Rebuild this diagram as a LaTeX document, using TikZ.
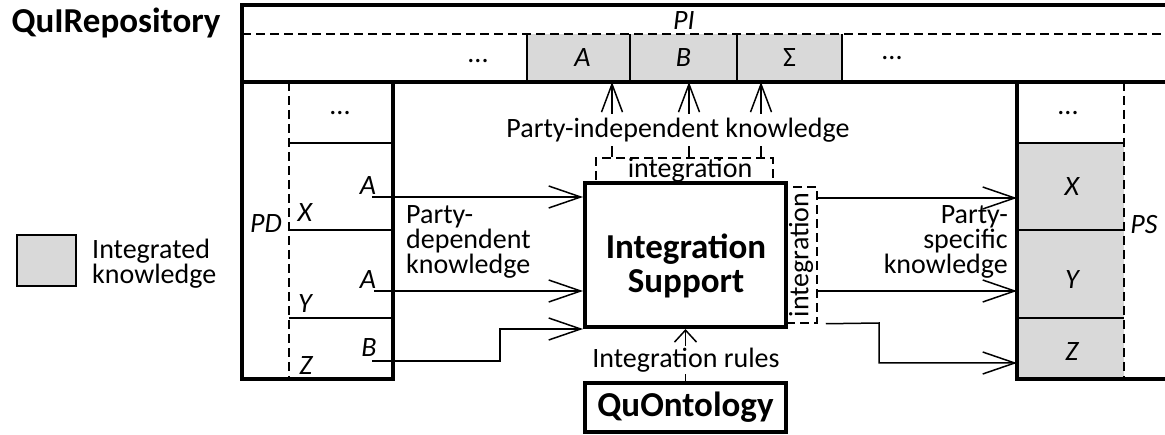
\documentclass[tikz,border=0pt]{standalone}
\usepackage{fontspec}
\setmainfont{Carlito}
\usetikzlibrary{arrows.meta,positioning}

\begin{document}
\begin{tikzpicture}[x=1pt, y=-1pt,
    outline/.style={line width=3.5pt},
    fineline/.style={line width=1.5pt},
    dashline/.style={line width=1.5pt, dash pattern=on 9pt off 5pt},
    brk/.style={draw, line width=1.5pt, dash pattern=on 9pt off 5pt, inner sep=0},
    graycell/.style={fill=black!15, inner sep=0},
    txt/.style={font=\fontsize{28}{23}\selectfont, inner sep=0},
    var/.style={font=\fontsize{28}{23}\selectfont\itshape, inner sep=0},
    heading/.style={font=\fontsize{35}{34}\selectfont\bfseries, inner sep=0, align=center},
    flow/.style={line width=1.5pt, -{Straight Barb[length=32pt,width=22pt,line width=1.5pt]}},
    upflow/.style={line width=1.5pt, -{Straight Barb[length=28pt,width=21pt,line width=1.5pt]}},
    ruleflow/.style={line width=1.5pt, -{Straight Barb[length=12pt,width=22pt,line width=1.5pt]}}
]
\useasboundingbox (0,0) rectangle (1165,435);

\node[graycell, minimum width=103pt, minimum height=48pt, font=\fontsize{28}{23}\selectfont\itshape] (cell_a) at (578.5,58) {\hspace{8pt}A};
\node[graycell, minimum width=107pt, minimum height=48pt, font=\fontsize{28}{23}\selectfont\itshape] (cell_b) at (683.5,58) {B};
\node[graycell, minimum width=105pt, minimum height=48pt, font=\fontsize{28}{23}\selectfont] (cell_sum) at (789.5,58) {Σ};
\fill[black!15] (1017,143) rectangle (1124,379);

\draw[fineline] (527,34) -- (527,82) (630,34) -- (630,82) (737,34) -- (737,82) (842,34) -- (842,82);
\draw[dashline] (242,34) -- (1165,34);
\draw[dashline] (289,82) -- (289,379);
\draw[dashline] (1124,82) -- (1124,379);
\draw[fineline] (289,143) -- (393,143) (289,230) -- (393,230) (289,318) -- (393,318);
\draw[fineline] (1017,143) -- (1124,143) (1017,230) -- (1124,230) (1017,318) -- (1124,318);

\draw[outline] (1165,5) -- (242,5) -- (242,379) -- (393,379) -- (393,82);
\draw[outline] (242,82) -- (1165,82);
\draw[outline] (1017,82) -- (1017,379) -- (1165,379);

\node[heading] (repo_title) at (116,23) {QuIRepository};
\node[var] (pi_label) at (684,21) {PI};
\node[txt] (pi_dots) at (478,61) {...};
\node[txt] (pi_dots2) at (892,58) {...};

\node[txt] (pd_dots) at (340,113) {...};
\node[var] (pd_label) at (266,224) {PD};
\node[var] (pd_x) at (305,213) {X};
\node[var] (pd_y) at (305,304) {Y};
\node[var] (pd_z) at (306,366) {Z};
\node[var] (pd_a1) at (368,186) {A};
\node[var] (pd_a2) at (368,280) {A};
\node[var] (pd_b) at (369,348) {B};

\node[txt] (ps_dots) at (1068,113) {...};
\node[var] (ps_label) at (1144,225) {PS};
\node[var] (ps_x) at (1072,187) {X};
\node[var] (ps_y) at (1072,280) {Y};
\node[var] (ps_z) at (1072,352) {Z};

\node[graycell, draw, line width=1.5pt, minimum width=59pt, minimum height=51pt] (leg_box) at (46.5,260.5) {};
\node[txt, align=left, anchor=west] (leg_text) at (92,264) {Integrated\\knowledge};

\node[brk, minimum width=177pt, minimum height=25pt] (top_brk) at (684.5,170.5) {};
\node[brk, minimum width=31pt, minimum height=136pt] (side_brk) at (801.5,255) {};
\node[draw, line width=4pt, inner sep=0, minimum width=201pt, minimum height=144pt] (is_block) at (685.5,255) {};
\node[heading] (is_text) at (686,266) {Integration\\Support};
\node[draw, line width=3.5pt, inner sep=0, minimum width=201pt, minimum height=49pt, font=\fontsize{35}{34}\selectfont\bfseries] (qo_block) at (685.5,407.5) {QuOntology};

\node[txt] (top_int) at (690,170) {integration};
\node[txt, rotate=90] (side_int) at (801,255) {integration};

\coordinate (pd_out_a1) at (372,197);
\coordinate (pd_out_a2) at (374,291);
\coordinate (pd_out_b) at (372,361);
\coordinate (pi_in_a) at (612,82);
\coordinate (pi_in_b) at (689,82);
\coordinate (pi_in_sum) at (761,82);
\coordinate (ps_in_x) at (1017,198);
\coordinate (ps_in_y) at (1017,291);
\coordinate (ps_in_z) at (1017,363);

\draw[flow] (pd_out_a1) -- (pd_out_a1 -| is_block.west);
\draw[flow] (pd_out_a2) -- (pd_out_a2 -| is_block.west);
\draw[flow] (pd_out_b) -- (500,361) |- (is_block.south west);

\draw[upflow] (pi_in_a |- top_brk.north) -- (pi_in_a);
\draw[upflow] (pi_in_b |- top_brk.north) -- (pi_in_b);
\draw[upflow] (pi_in_sum |- top_brk.north) -- (pi_in_sum);
\node[txt, fill=white, inner xsep=2pt, inner ysep=4pt] (pi_text) at (678,130) {Party-independent knowledge};

\draw[flow] (side_brk.east |- ps_in_x) -- (ps_in_x);
\draw[flow] (side_brk.east |- ps_in_y) -- (ps_in_y);
\draw[flow] ([xshift=8pt]side_brk.south east) -- (879,323) |- (ps_in_z);

\draw[ruleflow] (qo_block.north) -- (is_block.south);
\node[txt, fill=white, inner xsep=2pt, inner ysep=2pt] (rules_text) at (686,360) {Integration rules};

\node[txt, align=left, anchor=west] (pd_text) at (406,242) {Party-\\dependent\\knowledge};
\node[txt, align=right, anchor=east] (ps_text) at (1008,242) {Party-\\specific\\knowledge};

\end{tikzpicture}
\end{document}
